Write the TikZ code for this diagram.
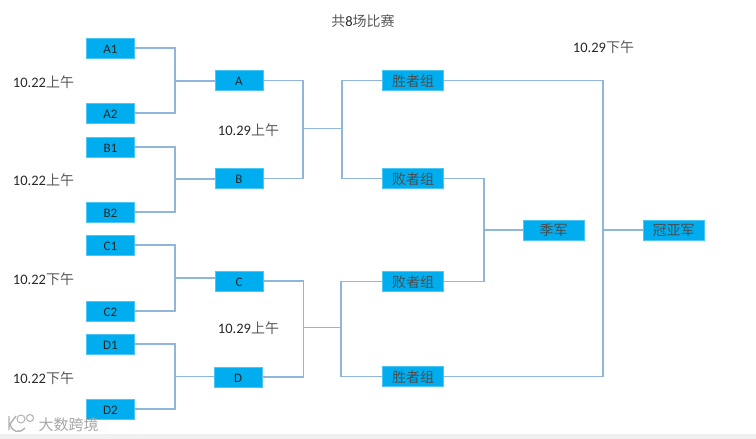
\documentclass[tikz,border=0pt]{standalone}
\usepackage{fontspec}
\usepackage{xcolor}
\usetikzlibrary{math}
\setmainfont{Carlito}
\newfontfamily\cjk{Noto Sans CJK SC}
\definecolor{mybox}{RGB}{0,174,239}
\definecolor{myline}{RGB}{145,182,220}
\definecolor{mytext}{RGB}{40,40,40}
\tikzset{
teambox/.style={fill=mybox,draw=mybox!70!white,line width=0.4,minimum width=48,minimum height=20,inner sep=0,text height=10,text depth=0,text=black!85,font=\fontsize{13}{13}\selectfont},
groupbox/.style={teambox,minimum width=61,text height=11,text=black!70,font=\cjk\fontsize{14}{14}\selectfont},
datelabel/.style={text=mytext,inner sep=0,font=\fontsize{14.5}{15}\selectfont},
bracket/.style={draw=myline,line width=1.1},
}
\newcommand{\zh}[1]{{\cjk\fontsize{14}{15}\selectfont\color{black!65}#1}}

\begin{document}
\begin{tikzpicture}[x=1pt,y=-1pt]
\tikzmath{
\xa=110.5;
\xb=239;
\xc=413;
\ja=175;
\jb=303;
\jc=342;
}
\useasboundingbox (0,0) rectangle (756,439);
\fill[white] (0,0) rectangle (756,439);
\fill[black!6] (0,434) rectangle (756,439);

\foreach \name/\y in {A1/48,A2/113,B1/147,B2/212,C1/245,C2/311,D1/344,D2/409}{
\node[teambox] (\name) at (\xa,\y) {\name};
}
\node[teambox] (A) at (\xb,80.5) {A};
\node[teambox] (B) at (\xb,178.5) {B};
\node[teambox] (C) at (\xb,281) {C};
\node[teambox] (D) at (\xb-1,377) {D};

\node[groupbox] (win1) at (\xc,80.5) {胜者组};
\node[groupbox] (lose1) at (\xc,178.5) {败者组};
\node[groupbox] (lose2) at (\xc,281.5) {败者组};
\node[groupbox] (win2) at (\xc,376.5) {胜者组};
\node[groupbox] (third) at (553.5,230) {季军};
\node[groupbox] (champ) at (673.5,230) {冠亚军};

\coordinate (jA) at (\ja,81);
\coordinate (jB) at (\ja,179);
\coordinate (jC) at (\ja,278);
\coordinate (jD) at (\ja,376.5);
\coordinate (jAB) at (\jb,128.5);
\coordinate (sAB) at (\jc,128.5);
\coordinate (jCD) at (\jb+0.5,327.5);
\coordinate (sCD) at (\jc-1,327.5);
\coordinate (jLose) at (484,230);
\coordinate (jWin) at (603,230);

\foreach \up/\down/\j/\to in {A1/A2/jA/A,B1/B2/jB/B,C1/C2/jC/C,D1/D2/jD/D}{
\draw[bracket] (\up.east) -| (\j) |- (\down.east);
\draw[bracket] (\j) -- (\j-|\to.west);
}
\draw[bracket] (A.east) -| (jAB) |- (B.east);
\draw[bracket] (C.east) -| (jCD) |- (D.east);
\draw[bracket] (jAB) -- (sAB);
\draw[bracket] (jCD) -- (sCD);
\draw[bracket] (win1.west) -| (sAB) |- (lose1.west);
\draw[bracket] (lose2.west) -| (sCD) |- (win2.west);
\draw[bracket] (lose1.east) -| (jLose) |- (lose2.east);
\draw[bracket] (win1.east) -| (jWin) |- (win2.east);
\draw[bracket] (jLose) -- (third.west);
\draw[bracket] (jWin) -- (champ.west);

\node[datelabel] (title) at (363,21) {\zh{共}8\zh{场比赛}};
\node[datelabel] (day1) at (43.5,82) {10.22\zh{上午}};
\node[datelabel] (day2) at (43.5,180) {10.22\zh{上午}};
\node[datelabel] (day3) at (43.5,279) {10.22\zh{下午}};
\node[datelabel] (day4) at (43.5,378) {10.22\zh{下午}};
\node[datelabel] (semi1) at (248.5,130) {10.29\zh{上午}};
\node[datelabel] (semi2) at (248.5,328) {10.29\zh{上午}};
\node[datelabel] (final) at (603.5,47) {10.29\zh{下午}};

\node[inner sep=0,text=black!35,font=\cjk\fontsize{15}{15}\selectfont] (mark) at (68.5,425) {大数跨境};
\draw[black!30,line width=1.4] (9,416) -- (9,430) (10,424) -- (16,416) (10,424) .. controls (12,432) and (19,434) .. (25,428);
\draw[black!30,line width=1] (21,419) circle (4);
\draw[black!30,line width=1] (30,418) circle (3.5);
\end{tikzpicture}
\end{document}
